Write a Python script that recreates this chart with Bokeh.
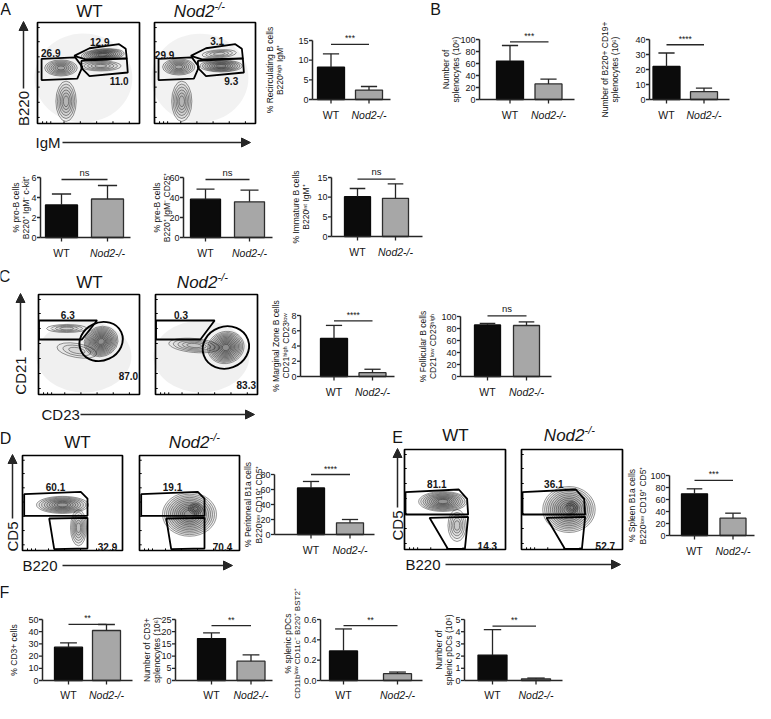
import math
from bokeh.plotting import figure
from bokeh.models import Range1d, Arrow, NormalHead
from bokeh.embed import file_html
from bokeh.resources import INLINE
from bokeh.core.properties import value

# ---------------- DATA ----------------
groups = ["WT", "Nod2-/-"]

# bar charts: mean and SD (upper error bar)
recirc_mean = [8.2, 2.4];     recirc_sd = [3.4, 0.9];     recirc_ticks = [0, 5, 10, 15]
spleno_mean = [64.0, 26.0];   spleno_sd = [26.0, 8.0];    spleno_ticks = [0, 20, 40, 60, 80, 100]
bcell_mean = [22.0, 5.2];     bcell_sd = [9.0, 2.4];      bcell_ticks = [0, 10, 20, 30, 40]
proB_mean = [3.25, 3.85];     proB_sd = [1.1, 1.35];      proB_ticks = [0, 2, 4, 6]
preB_mean = [38.3, 35.7];     preB_sd = [10.0, 11.6];     preB_ticks = [0, 20, 40, 60]
immB_mean = [10.1, 9.7];      immB_sd = [2.1, 3.7];       immB_ticks = [0, 5, 10, 15]
mz_mean = [5.0, 0.5];         mz_sd = [1.7, 0.45];        mz_ticks = [0, 2, 4, 6, 8]
fo_mean = [86.0, 85.0];       fo_sd = [2.5, 6.0];         fo_ticks = [0, 20, 40, 60, 80, 100]
perB1a_mean = [62.0, 15.6];   perB1a_sd = [8.7, 4.4];     perB1a_ticks = [0, 20, 40, 60, 80]
splB1a_mean = [69.4, 28.9];   splB1a_sd = [8.4, 8.3];     splB1a_ticks = [0, 20, 40, 60, 80, 100]
cd3pct_mean = [27.3, 41.0];   cd3pct_sd = [3.6, 4.9];     cd3pct_ticks = [0, 10, 20, 30, 40, 50]
cd3num_mean = [17.2, 7.9];    cd3num_sd = [2.3, 2.6];     cd3num_ticks = [0, 5, 10, 15, 20, 25]
pdcpct_mean = [0.29, 0.067];  pdcpct_sd = [0.217, 0.016]; pdcpct_ticks = [0.0, 0.2, 0.4, 0.6]
pdcnum_mean = [2.08, 0.14];   pdcnum_sd = [2.09, 0.06];   pdcnum_ticks = [0, 1, 2, 3, 4, 5]

sig_marks = {"recirc": "***", "spleno": "***", "bcell": "****", "proB": "ns", "preB": "ns",
             "immB": "ns", "mz": "****", "fo": "ns", "perB1a": "****", "splB1a": "***",
             "cd3pct": "**", "cd3num": "**", "pdcpct": "**", "pdcnum": "**"}

# flow cytometry gate percentages
flowA_wt = ["26.9", "12.9", "11.0"];  flowA_ko = ["29.9", "3.1", "9.3"]
flowC_wt = ["6.3", "87.0"];           flowC_ko = ["0.3", "83.3"]
flowD_wt = ["60.1", "32.9"];          flowD_ko = ["19.1", "70.4"]
flowE_wt = ["81.1", "14.3"];          flowE_ko = ["36.1", "52.7"]

# ---------------- STYLE / LAYOUT ----------------
FONT = "Liberation Sans"
WT_FILL, WT_LINE = "#0b0b0b", "#0b0b0b"
KO_FILL, KO_LINE = "#a7a7a7", "#2e2e2e"
AX = "#262626"
TXT = "#151515"
XS, XE = 8, 763      # reference pixels shown in the 755 px wide frame
YT, YB = 8, 711      # reference pixels shown in the 703 px tall frame

p = figure(width=755, height=703, x_range=Range1d(XS, XE), y_range=Range1d(YB, YT),
           output_backend="svg", toolbar_location=None, x_axis_type=None, y_axis_type=None,
           min_border=0, min_border_left=0, min_border_right=0, min_border_top=0, min_border_bottom=0)
p.outline_line_color = None
p.background_fill_color = "white"
p.border_fill_color = "white"

XR, YR = {}, {}


def txt(x, y, s, size, align="center", baseline="middle", angle=0.0, style="normal",
        color=TXT, xr="default", yr="default"):
    p.text(x=[x], y=[y], text=[s], text_font=value(FONT), text_font_size=f"{size}px",
           text_align=align, text_baseline=baseline, angle=angle, text_font_style=style,
           text_color=color, x_range_name=xr, y_range_name=yr)


def fmt(t, ticks):
    if all(float(v).is_integer() for v in ticks):
        return str(int(t))
    return f"{t:.1f}"


def bar_chart(cfg):
    key = cfg["key"]
    means, sds, ticks = cfg["mean"], cfg["sd"], cfg["ticks"]
    vmax = ticks[-1]
    y0, ytop = cfg["y0"], cfg["ytop"]
    k = (y0 - ytop) / vmax
    c0, c1 = cfg["c"]
    b = c1 - c0
    xr, yr = key + "_x", key + "_y"
    XR[xr] = Range1d(start=(XS - c0) / b, end=(XE - c0) / b)
    YR[yr] = Range1d(start=(y0 - YB) / k, end=(y0 - YT) / k)
    kw = dict(x_range_name=xr, y_range_name=yr)
    px, py = 1.0 / b, 1.0 / k
    ua = (cfg["ax"] - c0) / b
    ue = (cfg["end"] - c0) / b
    xs = list(range(len(means)))
    p.vbar(x=xs, top=means, bottom=0, width=cfg["bw"] * px,
           fill_color=[WT_FILL, KO_FILL], line_color=[WT_LINE, KO_LINE], line_width=1.3, **kw)
    tops = [m + s for m, s in zip(means, sds)]
    p.segment(x0=xs, y0=means, x1=xs, y1=tops, line_color=AX, line_width=1.3, **kw)
    cw = cfg["bw"] * 0.6 * px
    p.segment(x0=[x - cw / 2 for x in xs], y0=tops, x1=[x + cw / 2 for x in xs], y1=tops,
              line_color=AX, line_width=1.3, **kw)
    # axes
    p.segment(x0=[ua, ua], y0=[0, 0], x1=[ua, ue], y1=[vmax, 0], line_color=AX, line_width=1.5, **kw)
    n = len(ticks)
    p.segment(x0=[ua - 3.5 * px] * n, y0=ticks, x1=[ua] * n, y1=ticks, line_color=AX, line_width=1.3, **kw)
    p.text(x=[ua - 4 * px] * n, y=ticks, text=[fmt(t, ticks) for t in ticks], text_font=value(FONT),
           text_font_size="9px", text_align="right", text_baseline="middle", text_color=TXT, **kw)
    p.segment(x0=xs, y0=[0] * len(xs), x1=xs, y1=[-4 * py] * len(xs), line_color=AX, line_width=1.3, **kw)
    cv = (y0 - cfg["cat_y"]) * py
    txt(0, cv, groups[0], 10.5, xr=xr, yr=yr)
    txt(1, cv, groups[1], 10.5, style="italic", xr=xr, yr=yr)
    # significance
    sa = cfg["sig_at"]
    p.segment(x0=[0], y0=[sa], x1=[1], y1=[sa], line_color=AX, line_width=1.3, **kw)
    s = sig_marks[key]
    if s == "ns":
        txt(0.5, sa + 2 * py, s, 9.5, baseline="bottom", xr=xr, yr=yr)
    else:
        txt(0.5, sa + 1 * py, s, 8.5, baseline="bottom", xr=xr, yr=yr)
    # y label (rotated)
    yc = cfg.get("lab_y", (y0 + ytop) / 2)
    sizes = cfg.get("lab_size", [8.5] * len(cfg["labels"]))
    for lx, line, fs in zip(cfg["lab_x"], cfg["labels"], sizes):
        txt(lx, yc, line, fs, angle=math.pi / 2)


charts = [
    dict(key="recirc", mean=recirc_mean, sd=recirc_sd, ticks=recirc_ticks, sig_at=14.0,
         labels=["% Recirculating B cells", "B220ʰⁱᵍʰ IgM⁺"],
         ax=320, end=398, y0=107, ytop=48, c=(338.5, 376.5), bw=27, lab_x=(277, 287), cat_y=122),
    dict(key="spleno", mean=spleno_mean, sd=spleno_sd, ticks=spleno_ticks, sig_at=96,
         labels=["Number of", "splenocytes (10⁶)"],
         ax=487, end=582, y0=107, ytop=47, c=(517.5, 556), bw=27, lab_x=(453, 463), cat_y=122),
    dict(key="bcell", mean=bcell_mean, sd=bcell_sd, ticks=bcell_ticks, sig_at=36.5,
         labels=["Number of B220+ CD19+", "splenocytes (10⁶)"],
         ax=657, end=737, y0=107, ytop=47, c=(674, 711.5), bw=27, lab_x=(612, 622), cat_y=122),
    dict(key="proB", mean=proB_mean, sd=proB_sd, ticks=proB_ticks, sig_at=5.8,
         labels=["% pro-B cells", "B220⁺ IgM⁻ c-kit⁺"],
         ax=48, end=138, y0=245, ytop=185, c=(69, 115), bw=32, lab_x=(23, 33), cat_y=260),
    dict(key="preB", mean=preB_mean, sd=preB_sd, ticks=preB_ticks, sig_at=58,
         labels=["% pre-B cells", "B220⁺ IgM⁻ CD25⁺"],
         ax=191, end=280, y0=245, ytop=185, c=(213, 257), bw=30, lab_x=(164, 174), cat_y=260),
    dict(key="immB", mean=immB_mean, sd=immB_sd, ticks=immB_ticks, sig_at=14.6,
         labels=["% Immature B cells", "B220ⁱⁿᵗ IgM⁺"],
         ax=339, end=430, y0=244, ytop=185, c=(365, 403), bw=26, lab_x=(303, 313), cat_y=259),
    dict(key="mz", mean=mz_mean, sd=mz_sd, ticks=mz_ticks, sig_at=7.3,
         labels=["% Marginal Zone B cells", "CD21ʰⁱᵍʰ CD23ˡᵒʷ"],
         ax=308, end=402, y0=384, ytop=323, c=(341.5, 380), bw=27, lab_x=(283, 293), cat_y=399),
    dict(key="fo", mean=fo_mean, sd=fo_sd, ticks=fo_ticks, sig_at=101,
         labels=["% Follicular B cells", "CD21ˡᵒʷ CD23ʰⁱᵍʰ"],
         ax=468, end=559, y0=384, ytop=324, c=(495, 534), bw=26, lab_x=(430, 440), cat_y=399),
    dict(key="perB1a", mean=perB1a_mean, sd=perB1a_sd, ticks=perB1a_ticks, sig_at=80,
         labels=["% Peritoneal B1a cells", "B220ˡᵒʷ CD19⁺ CD5⁺"],
         ax=282, end=382, y0=542, ytop=482, c=(318.5, 357.5), bw=27, lab_x=(255, 266), cat_y=557),
    dict(key="splB1a", mean=splB1a_mean, sd=splB1a_sd, ticks=splB1a_ticks, sig_at=92,
         labels=["% Spleen B1a cells", "B220ˡᵒʷ CD19⁺ CD5⁺"],
         ax=677, end=762, y0=543, ytop=483, c=(702, 740.5), bw=26, lab_x=(639, 650), cat_y=558),
    dict(key="cd3pct", mean=cd3pct_mean, sd=cd3pct_sd, ticks=cd3pct_ticks, sig_at=46,
         labels=["% CD3+ cells"],
         ax=50, end=140, y0=688, ytop=627, c=(76, 114), bw=28, lab_x=(21,), cat_y=702),
    dict(key="cd3num", mean=cd3num_mean, sd=cd3num_sd, ticks=cd3num_ticks, sig_at=22.5,
         labels=["Number of CD3+", "splenocytes (10⁶)"],
         ax=183, end=280, y0=688, ytop=627, c=(219, 258.5), bw=28, lab_x=(154, 164), cat_y=702),
    dict(key="pdcpct", mean=pdcpct_mean, sd=pdcpct_sd, ticks=pdcpct_ticks, sig_at=0.54,
         labels=["% splenic pDCs", "CD11bˡᵒʷ CD11c⁻ B220⁺ BST2⁺"], lab_size=[8.5, 8], lab_y=651,
         ax=328, end=430, y0=688, ytop=627, c=(351, 405), bw=28, lab_x=(295, 305), cat_y=702),
    dict(key="pdcnum", mean=pdcnum_mean, sd=pdcnum_sd, ticks=pdcnum_ticks, sig_at=4.45,
         labels=["Number of", "splenic pDCs (10⁶)"],
         ax=472, end=570, y0=688, ytop=627, c=(500, 543.5), bw=29, lab_x=(446, 456), cat_y=702),
]


def flow(key, box, blobs, gates, egates, nums):
    L, T, R, B = box
    b = (R - L) / 100.0
    k = (B - T) / 100.0
    xr, yr = key + "_x", key + "_y"
    XR[xr] = Range1d(start=(XS - L) / b, end=(XE - L) / b)
    YR[yr] = Range1d(start=(B - YB) / k, end=(B - YT) / k)
    kw = dict(x_range_name=xr, y_range_name=yr)
    ex, ey, ew, eh, ea, fa, la = [], [], [], [], [], [], []
    for (cx, cy, w, h, ang, nring, dens) in blobs:
        for i in range(nring):
            s = 1.0 - 0.88 * i / max(nring, 1)
            ex.append(cx); ey.append(cy); ew.append(w * s); eh.append(h * s)
            ea.append(math.radians(ang)); fa.append(0.05 * dens); la.append(0.75 if nring > 1 else 0.0)
    p.ellipse(x=ex, y=ey, width=ew, height=eh, angle=ea, fill_color="#555555", fill_alpha=fa,
              line_color="#1a1a1a", line_alpha=la, line_width=0.6, **kw)
    if gates:
        p.patches(xs=[[q[0] for q in g] for g in gates], ys=[[q[1] for q in g] for g in gates],
                  fill_alpha=0, line_color="#000000", line_width=1.8, **kw)
    for (cx, cy, w, h, ang) in egates:
        p.ellipse(x=[cx], y=[cy], width=[w], height=[h], angle=[math.radians(ang)], fill_alpha=0,
                  line_color="#000000", line_width=1.9, **kw)
    p.quad(left=[0], right=[100], bottom=[0], top=[100], fill_alpha=0, line_color="#000000",
           line_width=1.7, **kw)
    ly = [6, 21, 36, 51, 66, 81, 95]
    p.segment(x0=[0] * len(ly), y0=ly, x1=[2.2] * len(ly), y1=ly, line_color="#000", line_width=1, **kw)
    bx = [5, 9, 13, 26, 42, 58, 74, 90]
    p.segment(x0=bx, y0=[0] * len(bx), x1=bx, y1=[2.2] * len(bx), line_color="#000", line_width=1, **kw)
    for (x, y, s) in nums:
        txt(x, y, s, 10, style="bold", xr=xr, yr=yr)


gateA = [[(4, 64), (37, 65.5), (44, 56), (39, 44.5), (4, 43)],
         [(36, 67), (51, 74.5), (80, 78.5), (86.5, 74), (87.5, 64.5), (47, 63.5)],
         [(43, 62), (87.5, 64.5), (88.5, 50.5), (51, 47), (43, 55)]]
flow("aw", (45, 30, 147, 131),
     [(45, 45, 96, 88, 0, 1, 1.6), (28, 22, 20, 40, 0, 6, 1.6), (23, 55, 32, 16, 0, 7, 1.8),
      (64, 68, 42, 12, 4, 9, 2.4), (62, 57, 40, 10, 0, 5, 1.6)],
     gateA, [], [(13, 70, flowA_wt[0]), (61, 81, flowA_wt[1]), (80, 42, flowA_wt[2])])
flow("ak", (162, 30, 263, 131),
     [(45, 45, 96, 88, 0, 1, 1.6), (27, 22, 20, 40, 0, 6, 1.6), (24, 56, 32, 16, 0, 7, 1.8),
      (64, 69, 34, 8, 4, 4, 1.2), (66, 57, 42, 12, 0, 8, 2.2)],
     gateA, [], [(10, 68, flowA_ko[0]), (62, 82, flowA_ko[1]), (76, 42, flowA_ko[2])])

flow("cw", (46, 302, 147, 402),
     [(45, 38, 94, 72, 0, 1, 1.8), (62, 53, 34, 30, 20, 12, 1.6), (28, 66, 40, 8, 0, 4, 1.2),
      (38, 44, 40, 14, -10, 3, 1.0)],
     [[(0.5, 74), (58, 74), (43, 55), (0.5, 55)]], [(62, 53, 44, 38, 25)],
     [(29, 80, flowC_wt[0]), (89, 19, flowC_wt[1])])
flow("ck", (163, 302, 265, 402),
     [(45, 38, 94, 72, 0, 1, 1.8), (69, 47, 36, 32, 15, 12, 1.6), (38, 49, 50, 14, -5, 5, 1.2)],
     [[(0.5, 74), (58, 74), (44, 55), (0.5, 55)]], [(69, 47, 46, 42, 20)],
     [(25, 80, flowC_ko[0]), (89, 10, flowC_ko[1])])

gateD = [[(1.7, 59.3), (58.3, 61.8), (65, 54.7), (65, 36.5), (1.7, 36.5)],
         [(26.7, 33.7), (65, 34.4), (65, 2.1), (31.7, 1.4)]]
flow("dw", (30, 463, 130, 558),
     [(40, 48, 52, 18, 0, 9, 1.8), (56, 24, 16, 38, 0, 6, 1.6)],
     gateD, [], [(33, 67, flowD_wt[0]), (85, 4, flowD_wt[1])])
flow("dk", (147, 463, 247, 558),
     [(50, 38, 54, 46, 0, 12, 1.4), (56, 44, 14, 12, 0, 4, 2.0)],
     gateD, [], [(33, 67, flowD_ko[0]), (83, 4, flowD_ko[1])])

gateE = [[(1, 57.4), (53.8, 60), (62, 50.7), (63, 35), (1, 35)],
         [(24.8, 31.7), (63, 32.7), (59.8, 0.7), (43, 0.5)]]
flow("ew", (412, 457, 513, 557),
     [(38, 48, 48, 20, 0, 10, 1.8), (52, 24, 18, 32, 0, 5, 1.4)],
     gateE, [], [(32, 66, flowE_wt[0]), (82, 4, flowE_wt[1])])
flow("ek", (529, 457, 630, 557),
     [(47, 40, 52, 46, 0, 12, 1.4), (50, 42, 12, 12, 0, 4, 2.0)],
     gateE, [], [(32, 66, flowE_ko[0]), (83, 4, flowE_ko[1])])

for cfg in charts:
    bar_chart(cfg)

p.extra_x_ranges = XR
p.extra_y_ranges = YR

# panel letters
for (x, y, s) in [(13, 17, "A"), (443, 17, "B"), (12, 284, "C"), (13, 446, "D"), (405, 445, "E"), (12, 600, "F")]:
    txt(x, y, s, 16)


def ko_title(cx, cy):
    txt(cx + 12, cy, "Nod2", 17, align="right", style="italic")
    txt(cx + 12, cy - 6, "-/-", 11, align="left", style="italic")


for (cx, cy) in [(97, 19), (97, 290), (85, 450), (463, 443)]:
    txt(cx, cy, "WT", 17)
for (cx, cy) in [(210, 19), (213, 290), (205, 450), (580, 443)]:
    ko_title(cx, cy)


def arrow(x0, y0, x1, y1):
    p.add_layout(Arrow(end=NormalHead(size=9, fill_color=AX, line_color=AX), x_start=x0, y_start=y0,
                       x_end=x1, y_end=y1, line_color=AX, line_width=1.5))


txt(31, 116, "B220", 15, angle=math.pi / 2); arrow(31, 96, 31, 29)
txt(43, 150, "IgM", 15, align="left"); arrow(70, 150, 258, 150)
txt(28, 383, "CD21", 15, angle=math.pi / 2); arrow(28, 358, 28, 301)
txt(49, 422, "CD23", 15, align="left"); arrow(88, 422, 262, 422)
txt(20, 544, "CD5", 15, angle=math.pi / 2); arrow(20, 526, 20, 462)
txt(30, 573, "B220", 15, align="left"); arrow(70, 573, 240, 573)
txt(405, 533, "CD5", 15, angle=math.pi / 2); arrow(405, 515, 405, 456)
txt(413, 572, "B220", 15, align="left"); arrow(453, 572, 628, 572)

open("out.html", "w").write(file_html(p, INLINE))
